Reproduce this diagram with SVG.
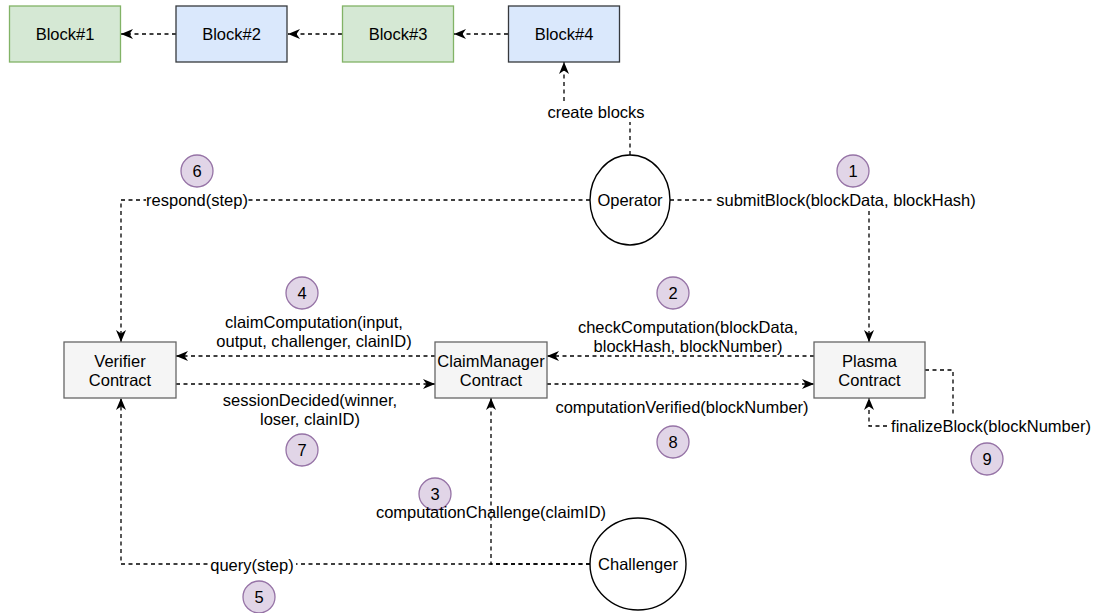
<svg xmlns="http://www.w3.org/2000/svg" width="1096" height="613" viewBox="0 0 1096 613">
<style>
text{font-family:"Liberation Sans",Arial,Helvetica,sans-serif;font-size:16.5px;fill:#000;text-anchor:middle;dominant-baseline:central}
.green{fill:#d5e8d4;stroke:#82b366;stroke-width:1.3}
.blue{fill:#dae8fc;stroke:#36393d;stroke-width:1.3}
.contract{fill:#f5f5f5;stroke:#666;stroke-width:1.3}
.actor{fill:#fff;stroke:#000;stroke-width:1.4}
.num{fill:#e1d5e7;stroke:#9673a6;stroke-width:1.3}
.edge{fill:none;stroke:#000;stroke-width:1.3;stroke-dasharray:4 3.5}
.bg{fill:#fff}
</style>
<defs>
<marker id="arr" viewBox="0 0 12 10" refX="12" refY="5" markerWidth="12" markerHeight="10" orient="auto" markerUnits="userSpaceOnUse">
<path d="M0,0 L12,5 L0,10 L3.5,5 z" fill="#000"/>
</marker>
</defs>
<rect width="1096" height="613" fill="#fff"/>

<g id="connectors">
<path class="edge" d="M176,34 H121" marker-end="url(#arr)"/>
<path class="edge" d="M342,34 H288" marker-end="url(#arr)"/>
<path class="edge" d="M508,34 H454" marker-end="url(#arr)"/>
<path class="edge" d="M630,155 V112 H564 V62" marker-end="url(#arr)"/>
<path class="edge" d="M590,200 H121 V342" marker-end="url(#arr)"/>
<path class="edge" d="M670,200 H869 V342" marker-end="url(#arr)"/>
<path class="edge" d="M814,356 H547" marker-end="url(#arr)"/>
<path class="edge" d="M547,384 H814" marker-end="url(#arr)"/>
<path class="edge" d="M435,356 H176" marker-end="url(#arr)"/>
<path class="edge" d="M176,384 H435" marker-end="url(#arr)"/>
<path class="edge" d="M925,370 H953 V426 H869 V398" marker-end="url(#arr)"/>
<path class="edge" d="M590,564 H121 V398" marker-end="url(#arr)"/>
<path class="edge" d="M590,564 H491 V398" marker-end="url(#arr)"/>
</g>

<g id="block1"><rect class="green" x="9.5" y="6" width="111" height="56"/><text x="65" y="34">Block#1</text></g>
<g id="block2"><rect class="blue" x="176" y="6" width="111" height="56"/><text x="231.5" y="34">Block#2</text></g>
<g id="block3"><rect class="green" x="342.5" y="6" width="111" height="56"/><text x="398" y="34">Block#3</text></g>
<g id="block4"><rect class="blue" x="508.5" y="6" width="111" height="56"/><text x="564" y="34">Block#4</text></g>

<g id="operator"><ellipse class="actor" cx="630" cy="200" rx="40" ry="45"/><text x="630" y="200">Operator</text></g>
<g id="challenger"><ellipse class="actor" cx="638" cy="564" rx="48" ry="46"/><text x="638" y="564">Challenger</text></g>

<g id="verifier"><rect class="contract" x="64" y="342" width="112" height="56"/><text x="120" y="361">Verifier</text><text x="120" y="380">Contract</text></g>
<g id="claimmanager"><rect class="contract" x="435" y="342" width="112" height="56"/><text x="491" y="361">ClaimManager</text><text x="491" y="380">Contract</text></g>
<g id="plasma"><rect class="contract" x="814" y="342" width="111" height="56"/><text x="869.5" y="361">Plasma</text><text x="869.5" y="380">Contract</text></g>

<g id="labels">
<rect class="bg" x="546" y="103" width="100" height="19"/><text x="596" y="112">create blocks</text>
<rect class="bg" x="146" y="191" width="102" height="19"/><text x="197" y="200">respond(step)</text>
<rect class="bg" x="715" y="191" width="263" height="19"/><text x="846" y="200">submitBlock(blockData, blockHash)</text>
<text x="314" y="322">claimComputation(input,</text><text x="314" y="341">output, challenger, clainID)</text>
<text x="688" y="327">checkComputation(blockData,</text><text x="688" y="346">blockHash, blockNumber)</text>
<text x="310" y="400">sessionDecided(winner,</text><text x="310" y="419">loser, clainID)</text>
<text x="682" y="407">computationVerified(blockNumber)</text>
<rect class="bg" x="890" y="417" width="203" height="19"/><text x="991" y="426">finalizeBlock(blockNumber)</text>
<rect class="bg" x="208" y="555" width="88" height="19"/><text x="252" y="565">query(step)</text>
</g>

<g id="n6"><circle class="num" cx="197" cy="171" r="16"/><text x="197" y="171">6</text></g>
<g id="n1"><circle class="num" cx="853" cy="171" r="16"/><text x="853" y="171">1</text></g>
<g id="n4"><circle class="num" cx="302" cy="293" r="16"/><text x="302" y="293">4</text></g>
<g id="n2"><circle class="num" cx="673" cy="293" r="16"/><text x="673" y="293">2</text></g>
<g id="n7"><circle class="num" cx="302" cy="450" r="16"/><text x="302" y="450">7</text></g>
<g id="n8"><circle class="num" cx="673" cy="442" r="16"/><text x="673" y="442">8</text></g>
<g id="n9"><circle class="num" cx="987" cy="459" r="16"/><text x="987" y="459">9</text></g>
<g id="n3"><circle class="num" cx="435" cy="494" r="16"/><text x="435" y="494">3</text></g>
<g id="n5"><circle class="num" cx="259" cy="597" r="16"/><text x="259" y="597">5</text></g>

<text x="491" y="512">computationChallenge(claimID)</text>
</svg>
